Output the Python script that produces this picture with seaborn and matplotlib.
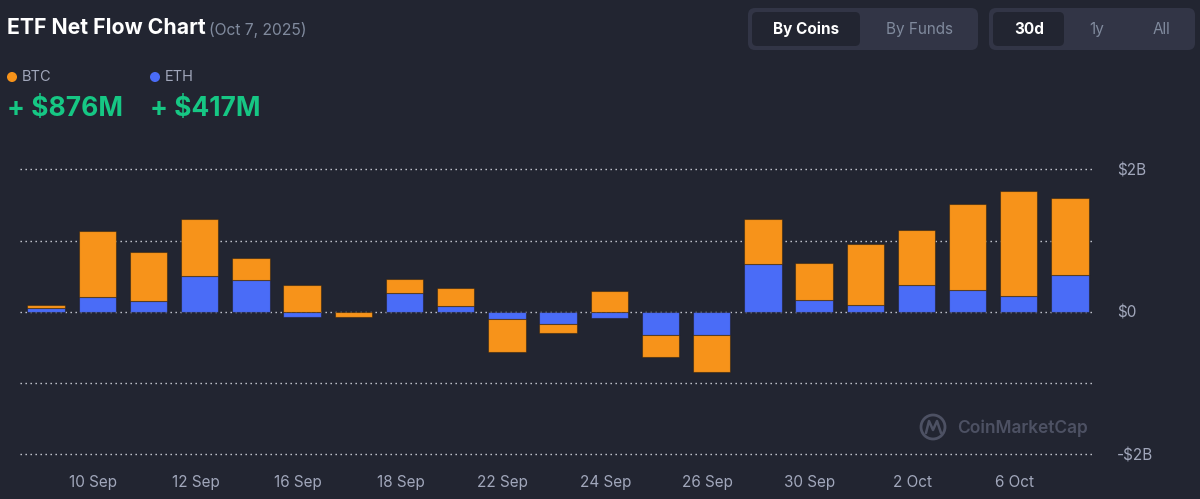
import numpy as np
import matplotlib.pyplot as plt
import matplotlib.transforms as mtransforms
import seaborn as sns
from matplotlib.patches import FancyBboxPatch, Circle

# ---------------------------------------------------------------
# data (billions USD)
# ---------------------------------------------------------------
dates = ["9 Sep", "10 Sep", "11 Sep", "12 Sep", "15 Sep", "16 Sep", "17 Sep",
         "18 Sep", "19 Sep", "22 Sep", "23 Sep", "24 Sep", "25 Sep", "26 Sep",
         "29 Sep", "30 Sep", "1 Oct", "2 Oct", "3 Oct", "6 Oct", "7 Oct"]
eth_flow = [0.05, 0.21, 0.15, 0.50, 0.44, -0.08, 0.0, 0.26, 0.08, -0.10, -0.17,
            -0.09, -0.32, -0.32, 0.67, 0.17, 0.09, 0.37, 0.30, 0.22, 0.52]
btc_flow = [0.04, 0.93, 0.69, 0.80, 0.32, 0.37, -0.08, 0.20, 0.25, -0.46, -0.13,
            0.29, -0.32, -0.52, 0.64, 0.52, 0.86, 0.78, 1.21, 1.48, 1.08]
shown_dates = dates[1::2]
ytick_vals = [-2, -1, 0, 1, 2]
ytick_labels = ["-$2B", "", "$0", "", "$2B"]
btc_latest = "+ $876M"
eth_latest = "+ $417M"

BG = "#222531"
PANEL = "#323546"
ORANGE = "#F7931A"
BLUE = "#4A6CF7"
GREEN = "#16C784"
GREY = "#A1A7BB"
DIM = "#808A9D"

sns.set_style("dark")
plt.rcParams["font.family"] = ["Inter", "DejaVu Sans"]

fig = plt.figure(figsize=(12, 4.99), dpi=100, facecolor=BG)

# overlay in pixel coordinates for header / buttons / watermark
deco = fig.add_axes([0, 0, 1, 1], zorder=0)
deco.set_xlim(0, 1200)
deco.set_ylim(499, 0)
deco.axis("off")
deco.set_facecolor(BG)

deco.text(7, 28, "ETF Net Flow Chart", color="white", fontsize=15.3,
          fontweight="bold", va="center", ha="left")
deco.text(209, 30, "(Oct 7, 2025)", color=DIM, fontsize=11.3, va="center", ha="left")

deco.add_patch(Circle((12, 77), 4.3, color=ORANGE))
deco.text(22, 77, "BTC", color=GREY, fontsize=10.5, va="center", ha="left")
deco.add_patch(Circle((155, 77), 4.3, color=BLUE))
deco.text(165, 77, "ETH", color=GREY, fontsize=10.5, va="center", ha="left")
deco.text(7, 109, btc_latest, color=GREEN, fontsize=19, fontweight="bold",
          va="center", ha="left")
deco.text(150, 109, eth_latest, color=GREEN, fontsize=19, fontweight="bold",
          va="center", ha="left")

# toggle buttons
def pill(x0, x1, y0, y1, color, r=7):
    deco.add_patch(FancyBboxPatch((x0 + r, y0 + r), x1 - x0 - 2 * r, y1 - y0 - 2 * r,
                                  boxstyle=f"round,pad={r}", fc=color, ec="none"))

pill(748, 978, 8, 50, PANEL)
pill(752, 860, 12, 46, BG, r=5)
deco.text(806, 29, "By Coins", color="white", fontsize=11, fontweight="bold",
          ha="center", va="center")
deco.text(919, 29, "By Funds", color=DIM, fontsize=11, ha="center", va="center")

pill(989, 1195, 8, 50, PANEL)
pill(993, 1064, 12, 46, BG, r=5)
deco.text(1029, 29, "30d", color="white", fontsize=11, fontweight="bold",
          ha="center", va="center")
deco.text(1097, 29, "1y", color=DIM, fontsize=11, ha="center", va="center")
deco.text(1161, 29, "All", color=DIM, fontsize=11, ha="center", va="center")

# watermark
WM = "#4D5163"
deco.add_patch(Circle((933, 427), 12, fc="none", ec=WM, lw=2))
deco.plot([926, 929, 933, 937, 941], [433, 421, 430, 421, 433], color=WM, lw=1.8)
deco.text(957, 428, "CoinMarketCap", color=WM, fontsize=12.5, fontweight="semibold",
          va="center", ha="left")

# ---------------------------------------------------------------
# main chart
# ---------------------------------------------------------------
ax = fig.add_axes([20 / 1200, (499 - 464.9) / 499, 1072 / 1200, (464.9 - 148.0) / 499],
                  zorder=1)
ax.set_facecolor("none")

eth = np.array(eth_flow)
btc = np.array(btc_flow)
btc_bottom = np.where(np.sign(btc) == np.sign(eth), eth, 0.0)

for v in ytick_vals:
    ax.axhline(v, color="#D0D4DC", lw=1.0, linestyle=(0, (1, 2.6)), zorder=0)

edge = (0.1, 0.08, 0.05, 0.45)
sns.barplot(x=dates, y=eth, order=dates, color=BLUE, saturation=1, width=0.73,
            edgecolor=edge, linewidth=0.8, ax=ax, zorder=2)
sns.barplot(x=dates, y=btc, order=dates, color=ORANGE, saturation=1, width=0.73,
            bottom=btc_bottom, edgecolor=edge, linewidth=0.8, ax=ax, zorder=2)

ax.set_xlim(-0.51, 20.43)
ax.set_ylim(-2.15, 2.3)
ax.set_xticks(range(1, 21, 2))
ax.set_xticklabels(shown_dates)
ax.yaxis.tick_right()
ax.set_yticks(ytick_vals)
ax.set_yticklabels(ytick_labels)
ax.tick_params(axis="x", length=0, pad=7.5, labelsize=11, labelcolor=GREY)
ax.tick_params(axis="y", length=0, pad=18, labelsize=11, labelcolor=GREY)
shift = mtransforms.ScaledTranslation(-4 / 100, 0, fig.dpi_scale_trans)
for lab in ax.get_xticklabels():
    lab.set_transform(lab.get_transform() + shift)
ax.set_xlabel("")
ax.set_ylabel("")
ax.grid(False)
for s in ax.spines.values():
    s.set_visible(False)

fig.savefig("out.png", dpi=100, facecolor=BG)
